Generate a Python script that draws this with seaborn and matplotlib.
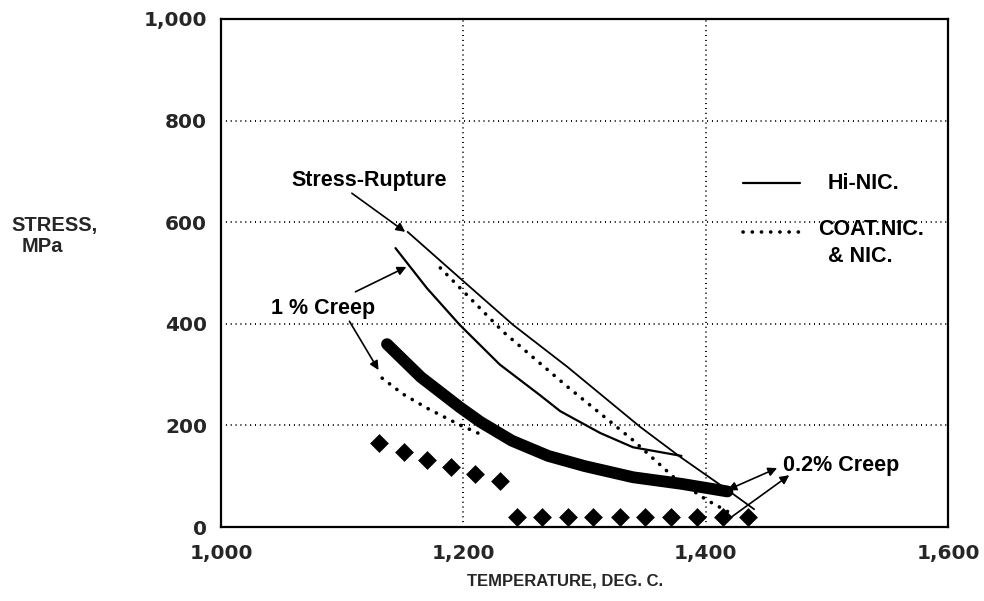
import matplotlib
matplotlib.use("Agg")
import matplotlib.pyplot as plt
from matplotlib import font_manager
from matplotlib.ticker import FuncFormatter, MultipleLocator
import seaborn as sns

# ---- data -------------------------------------------------------------
# Stress-rupture, Hi-NIC (thin solid)
rupture_hinic_temp = [1154, 1200, 1241, 1286, 1346, 1379, 1418, 1440]
rupture_hinic_stress = [581, 484, 398, 315, 197, 138, 73, 35]

# Stress-rupture, COAT.NIC. & NIC. (dotted)
rupture_coat_temp = [1181, 1233, 1286, 1340, 1376, 1401, 1420]
rupture_coat_stress = [510, 384, 276, 171, 93, 53, 28]

# 1 % creep, Hi-NIC (thin solid)
creep1_hinic_temp = [1144, 1170, 1197, 1230, 1263, 1280, 1313, 1340, 1380]
creep1_hinic_stress = [549, 470, 398, 320, 260, 228, 185, 157, 140]

# 1 % creep, COAT.NIC. & NIC. (dotted)
creep1_coat_temp = [1133, 1150, 1170, 1197, 1212]
creep1_coat_stress = [293, 262, 234, 201, 185]

# 0.2 % creep, Hi-NIC (heavy line)
creep02_hinic_temp = [1137, 1165, 1197, 1214, 1240, 1270, 1300, 1340, 1380, 1418]
creep02_hinic_stress = [360, 295, 236, 207, 170, 140, 120, 98, 85, 70]

# 0.2 % creep, COAT.NIC. & NIC. (diamonds)
creep02_coat_temp = [1130, 1151, 1170, 1190, 1210, 1230,
                     1244, 1265, 1286, 1307, 1329, 1350, 1371, 1393, 1414, 1435]
creep02_coat_stress = [165, 148, 132, 118, 104, 91,
                       20, 20, 20, 20, 20, 20, 20, 20, 20, 20]

x_ticks = [1000, 1200, 1400, 1600]
y_ticks = [0, 200, 400, 600, 800, 1000]

# ---- style ------------------------------------------------------------
sns.set_style("white")


def pick(name, fallback):
    try:
        font_manager.findfont(name, fallback_to_default=False)
        return name
    except Exception:
        return fallback


SANS = pick("Liberation Sans", "DejaVu Sans")
plt.rcParams["font.family"] = [SANS, "DejaVu Sans"]

fig = plt.figure(figsize=(9.84, 6.01), dpi=100)
ax = fig.add_axes([0.2246, 0.1231, 0.7388, 0.8453])

DOT = (0, (0.05, 2.5))

sns.lineplot(x=rupture_hinic_temp, y=rupture_hinic_stress, ax=ax, color="k",
             lw=1.3, sort=False, estimator=None)
sns.lineplot(x=rupture_coat_temp, y=rupture_coat_stress, ax=ax, color="k",
             lw=2.6, linestyle=DOT, dash_capstyle="round", sort=False, estimator=None)
sns.lineplot(x=creep1_hinic_temp, y=creep1_hinic_stress, ax=ax, color="k",
             lw=1.6, sort=False, estimator=None)
sns.lineplot(x=creep1_coat_temp, y=creep1_coat_stress, ax=ax, color="k",
             lw=2.6, linestyle=DOT, dash_capstyle="round", sort=False, estimator=None)
sns.lineplot(x=creep02_hinic_temp, y=creep02_hinic_stress, ax=ax, color="k",
             lw=8.5, solid_capstyle="round", solid_joinstyle="round",
             sort=False, estimator=None)
sns.scatterplot(x=creep02_coat_temp, y=creep02_coat_stress, ax=ax, color="k",
                marker="D", s=92, linewidth=0, zorder=4)

# ---- axes -------------------------------------------------------------
ax.set_xlim(1000, 1600)
ax.set_ylim(0, 1000)
ax.set_xticks(x_ticks)
ax.set_yticks(y_ticks)
ax.xaxis.set_minor_locator(MultipleLocator(100))
ax.yaxis.set_minor_locator(MultipleLocator(100))
fmt = FuncFormatter(lambda v, _: f"{v:,.0f}")
ax.xaxis.set_major_formatter(fmt)
ax.yaxis.set_major_formatter(fmt)

for sp in ax.spines.values():
    sp.set_visible(True)
    sp.set_color("k")
    sp.set_linewidth(1.6)

ax.tick_params(which="both", direction="in", color="k", width=1.3)
ax.tick_params(which="major", length=0)
ax.tick_params(which="minor", length=5)
ax.tick_params(axis="x", which="major", pad=12)
ax.tick_params(axis="y", which="major", pad=10)
for lab in ax.get_xticklabels() + ax.get_yticklabels():
    lab.set_fontfamily("DejaVu Sans")
    lab.set_fontweight("bold")
    lab.set_fontsize(14.5)

ax.grid(True, which="major", color="k", lw=1.4, linestyle=(0, (0.5, 2.0)))
ax.set_axisbelow(True)

ax.set_xlabel("")
ax.set_ylabel("")
fig.text(565 / 984, 1 - 581 / 601, "TEMPERATURE, DEG. C.", fontsize=12,
         fontweight="bold", ha="center", va="center")
fig.text(0.012, 1 - 225 / 601, "STRESS,", fontsize=14.5, fontweight="bold",
         ha="left", va="center")
fig.text(0.022, 1 - 246 / 601, "MPa", fontsize=14.5, fontweight="bold",
         ha="left", va="center")

# ---- annotations ------------------------------------------------------
arrow = dict(arrowstyle="-|>", color="k", lw=1.2, mutation_scale=13,
             shrinkA=0, shrinkB=0)
both = dict(arrowstyle="<|-|>", color="k", lw=1.2, mutation_scale=13,
            shrinkA=0, shrinkB=0)
txt = dict(fontsize=15.5, fontweight="bold", color="k")

ax.text(1122, 683, "Stress-Rupture", ha="center", va="center", **txt)
ax.annotate("", xy=(1152, 581), xytext=(1108, 657), arrowprops=arrow)

ax.text(1084, 431, "1 % Creep", ha="center", va="center", **txt)
ax.annotate("", xy=(1153, 512), xytext=(1111, 463), arrowprops=arrow)
ax.annotate("", xy=(1130, 309), xytext=(1106, 405), arrowprops=arrow)

ax.text(1464, 122, "0.2% Creep", ha="left", va="center", **txt)
ax.annotate("", xy=(1418, 73), xytext=(1459, 116), arrowprops=both)
ax.annotate("", xy=(1469, 102), xytext=(1418, 14), arrowprops=arrow)

# ---- legend -----------------------------------------------------------
ax.plot([1431, 1478], [677, 677], color="k", lw=1.6)
ax.text(1501, 677, "Hi-NIC.", ha="left", va="center", **txt)
ax.plot([1431, 1478], [581, 581], color="k", lw=2.6, linestyle=DOT,
        dash_capstyle="round")
ax.text(1493, 585, "COAT.NIC.", ha="left", va="center", **txt)
ax.text(1501, 533, "& NIC.", ha="left", va="center", **txt)

fig.savefig("out.png", dpi=100, facecolor="white")
